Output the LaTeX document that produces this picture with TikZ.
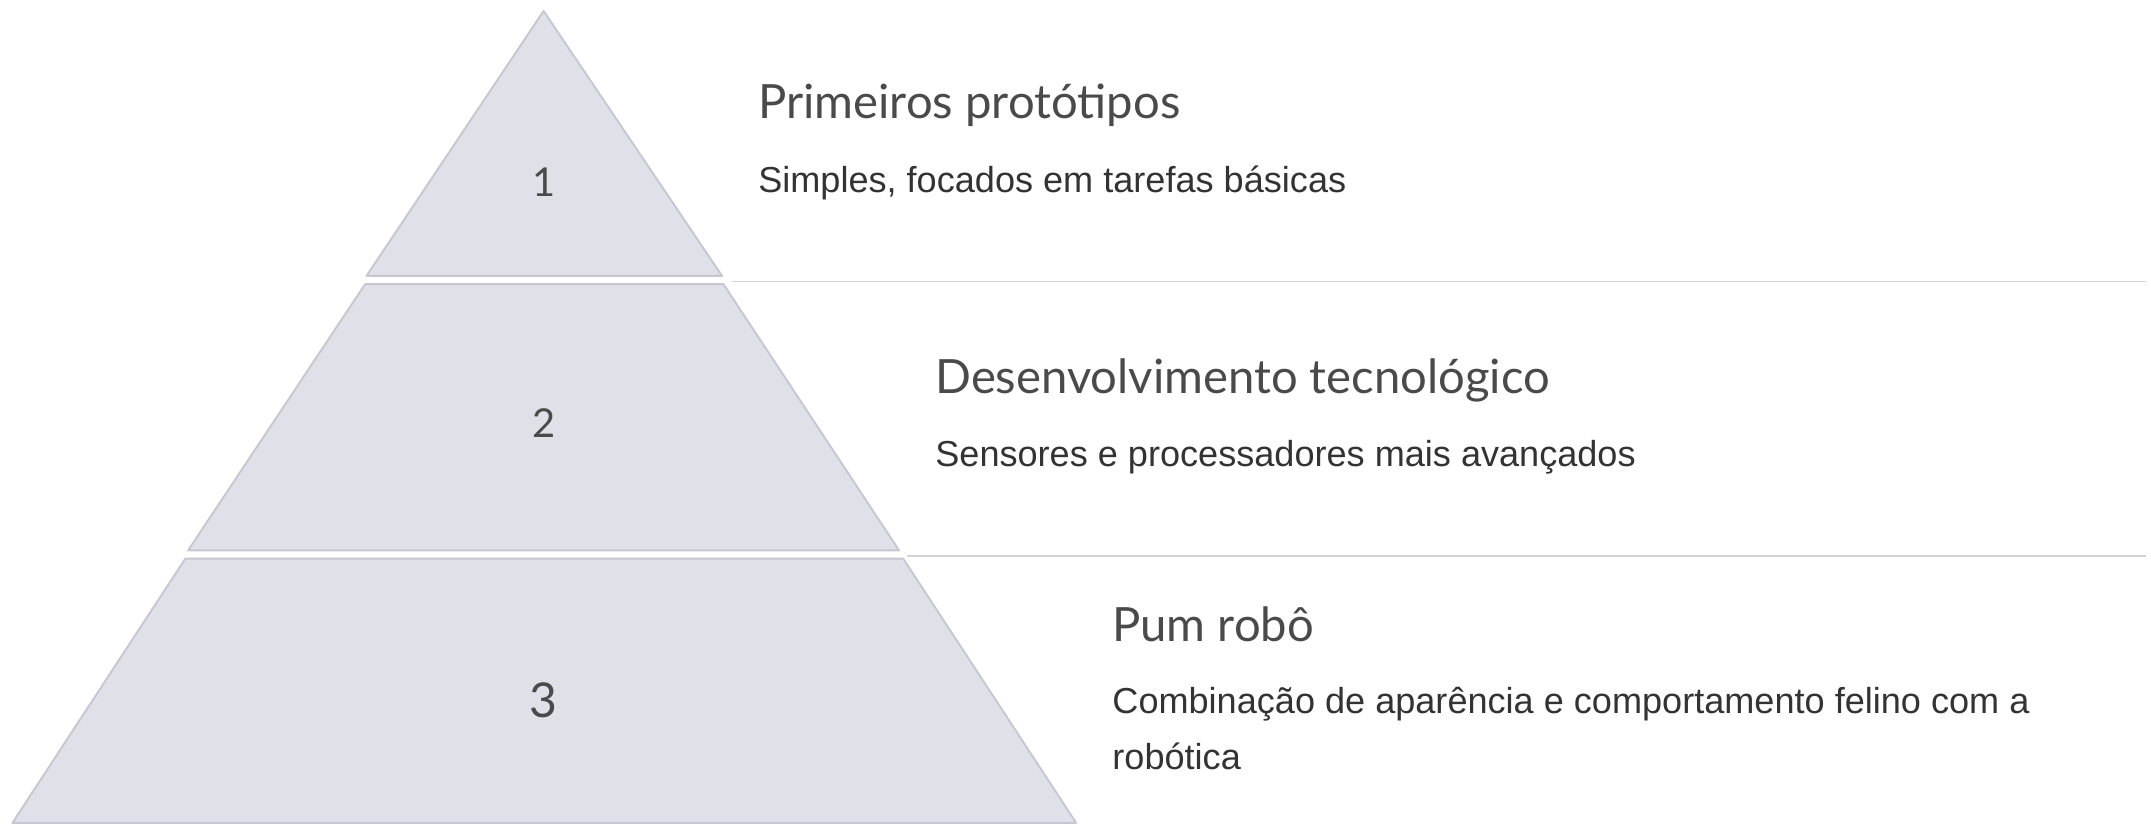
\documentclass[tikz,border=0pt]{standalone}
\usepackage{fontspec}
\setmainfont{Liberation Sans}
\newfontfamily\headfont{Lato}
\definecolor{tierfill}{HTML}{E0E1E8}
\definecolor{tierline}{HTML}{C6C7D1}
\definecolor{sepline}{HTML}{D2D3DA}
\definecolor{textgray}{HTML}{333333}
\definecolor{headgray}{HTML}{4A4A4A}
\begin{document}
\begin{tikzpicture}[x=0.5pt,y=-0.5pt]
  \tikzstyle{tier}=[fill=tierfill,draw=tierline,line width=0.7pt,line join=round];
  \tikzstyle{sep}=[draw=sepline,line width=0.6pt];
  \tikzstyle{num}=[font=\headfont\fontsize{14.5}{14.5}\selectfont,text=headgray];
  \tikzstyle{title}=[anchor=west,inner sep=0pt,font=\headfont\fontsize{17.2}{17.2}\selectfont,text=headgray];
  \tikzstyle{desc}=[anchor=west,inner sep=0pt,font=\fontsize{13.15}{20.5}\selectfont,text=textgray,align=left];
  \useasboundingbox (0,0) rectangle (1567,600);
  \fill[white] (0,0) rectangle (1567,600);
  % pyramid tiers
  \draw[tier] (396,8) -- (526,201) -- (267,201) -- cycle;
  \draw[tier] (266,207) -- (527,207) -- (655,401) -- (137,401) -- cycle;
  \draw[tier] (135,407) -- (658,407) -- (784,599.5) -- (9,599.5) -- cycle;
  % separators
  \coordinate (s1a) at (533,205);
  \coordinate (s1b) at (1563,205);
  \coordinate (s2a) at (661,405);
  \coordinate (s2b) at (1563,405);
  \draw[sep] (s1a) -- (s1b);
  \draw[sep] (s2a) -- (s2b);
  % numbers
  \node[num] (n1) at (396,133) {1};
  \node[num] (n2) at (396,308) {2};
  \node[num,font=\headfont\fontsize{17.5}{17.5}\selectfont] (n3) at (396,510) {3};
  % texts
  \node[title] (t1) at (552,77) {Primeiros protótipos};
  \node[desc] (d1) at (552,133) {Simples, focados em tarefas básicas};
  \node[title] (t2) at (681,277) {Desenvolvimento tecnológico};
  \node[desc] (d2) at (681,333) {Sensores e processadores mais avançados};
  \node[title] (t3) at (810,455) {Pum robô};
  \node[desc,anchor=north west] (d3) at (810,500) {Combinação de aparência e comportamento felino com a\\robótica};
\end{tikzpicture}
\end{document}
